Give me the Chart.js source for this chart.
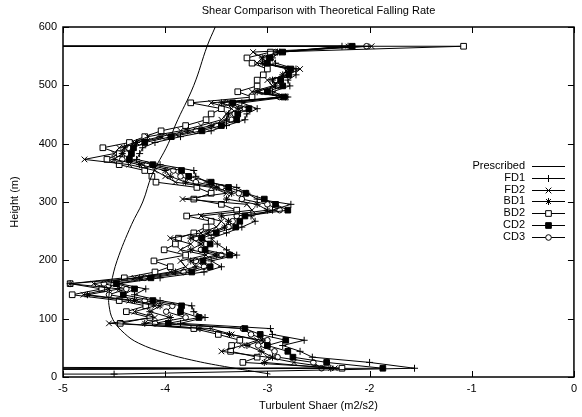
<!DOCTYPE html>
<html>
<head>
<meta charset="utf-8">
<script src="https://cdn.jsdelivr.net/npm/chart.js"></script>
<style>
  body { margin: 0; background: #fff; }
  canvas { display: block; }
</style>
</head>
<body>
<canvas id="shear-chart" width="582" height="417"></canvas>
<script>
// heights of the sampled levels (m)
const heights = [15, 25, 34, 44, 54, 63, 73, 83, 92, 102,
    112, 122, 131, 141, 151, 160, 170, 180, 189, 199,
    209, 218, 228, 238, 247, 257, 267, 276, 286, 296,
    305, 315, 325, 334, 344, 354, 364, 373, 383, 393,
    402, 412, 422, 431, 441, 451, 460, 470, 480, 489,
    499, 509, 518, 528, 538, 547, 557, 567];

// turbulent shear per scheme (m2/s2), same order as heights
const fd1 = [-1.56, -2.00, -2.56, -2.68, -2.85, -2.64, -2.95, -2.97, -3.85, -3.61,
    -3.72, -3.74, -4.05, -4.30, -4.19, -4.45, -4.05, -3.62, -3.45, -3.55,
    -3.30, -3.40, -3.49, -3.55, -3.40, -3.25, -3.12, -3.16, -2.95, -2.77,
    -3.10, -3.20, -3.30, -3.59, -3.70, -3.72, -4.05, -4.28, -4.25, -4.22,
    -4.10, -3.85, -3.55, -3.40, -3.22, -3.20, -3.10, -3.25, -2.80, -2.95,
    -2.78, -2.80, -2.72, -2.72, -2.92, -2.95, -2.88, -2.27];
const fd2 = [-2.34, -2.74, -3.00, -3.45, -3.25, -3.10, -3.35, -3.55, -4.55, -4.10,
    -4.30, -4.10, -4.35, -4.80, -4.55, -4.70, -4.30, -3.95, -3.80, -3.85,
    -3.60, -3.85, -3.75, -3.95, -3.65, -3.50, -3.45, -3.65, -3.15, -3.20,
    -3.83, -3.40, -3.55, -3.90, -4.00, -4.10, -4.35, -4.79, -4.50, -4.45,
    -4.30, -4.17, -3.85, -3.65, -3.45, -3.40, -3.35, -3.55, -2.85, -3.15,
    -2.95, -3.00, -2.80, -2.68, -3.10, -3.05, -3.14, -1.98];
const bd1 = [-2.38, -3.03, -2.95, -3.06, -3.20, -3.05, -3.37, -3.66, -4.20, -3.95,
    -4.15, -4.05, -4.30, -4.76, -4.45, -4.93, -4.25, -3.90, -3.70, -3.75,
    -3.50, -3.75, -3.65, -3.75, -3.58, -3.42, -3.38, -3.45, -3.00, -3.10,
    -3.40, -3.35, -3.50, -3.80, -3.95, -4.00, -4.25, -4.50, -4.42, -4.40,
    -4.28, -4.05, -3.78, -3.55, -3.40, -3.38, -3.28, -3.45, -2.82, -3.10,
    -2.92, -2.95, -2.85, -2.80, -3.05, -3.05, -2.90, -2.21];
const bd2 = [-2.27, -3.24, -3.10, -3.36, -3.35, -3.27, -3.48, -3.72, -4.44, -4.15,
    -4.38, -4.19, -4.45, -4.91, -4.62, -4.93, -4.40, -4.10, -3.95, -4.11,
    -3.80, -4.01, -3.90, -3.87, -3.72, -3.60, -3.55, -3.79, -3.30, -3.45,
    -3.72, -3.55, -3.69, -4.09, -4.13, -4.20, -4.45, -4.57, -4.45, -4.61,
    -4.35, -4.20, -4.04, -3.80, -3.60, -3.55, -3.45, -3.75, -3.15, -3.29,
    -3.10, -3.10, -3.04, -3.00, -3.15, -3.20, -2.97, -1.08];
const cd2 = [-1.87, -2.42, -2.75, -2.80, -3.00, -2.82, -3.07, -3.22, -3.97, -3.67,
    -3.85, -3.84, -4.12, -4.41, -4.30, -4.48, -4.14, -3.74, -3.56, -3.63,
    -3.37, -3.61, -3.56, -3.64, -3.50, -3.31, -3.27, -3.22, -2.80, -2.92,
    -3.03, -3.21, -3.38, -3.55, -3.77, -3.84, -4.12, -4.35, -4.33, -4.31,
    -4.20, -3.94, -3.64, -3.45, -3.30, -3.29, -3.18, -3.34, -2.84, -3.00,
    -2.85, -2.87, -2.79, -2.77, -3.00, -2.98, -2.85, -2.17];
const cd3 = [-2.47, -2.55, -2.90, -2.93, -3.09, -3.00, -3.16, -3.24, -4.10, -3.80,
    -3.99, -3.93, -4.20, -4.55, -4.38, -4.60, -4.20, -3.82, -3.62, -3.70,
    -3.45, -3.65, -3.60, -3.70, -3.55, -3.38, -3.34, -3.30, -2.88, -3.00,
    -3.25, -3.28, -3.45, -3.70, -3.85, -3.92, -4.18, -4.42, -4.38, -4.36,
    -4.25, -4.00, -3.70, -3.50, -3.35, -3.32, -3.22, -3.40, -2.88, -3.05,
    -2.90, -2.92, -2.82, -2.80, -3.02, -3.02, -2.92, -2.03];

// values that run off the left side (below -5) at the bottom and top levels
const offScaleShear = -12;
const lowLevel = [5, 10, 10, 20, 10, 10];   // FD1, FD2, BD1, BD2, CD2, CD3
const topLevel = 567;
const fd1Surface = [-4.5, 5];

// theoretical (prescribed) profile
const prescribedHeights = [5, 18, 29, 41, 58, 75, 98, 123, 140, 160, 200, 261, 300, 346, 400, 432, 500, 567, 600];
const prescribedShear = [-2.97, -3.42, -3.74, -4.00, -4.26, -4.40, -4.51, -4.55, -4.55, -4.53, -4.47, -4.33, -4.22, -4.13, -3.97, -3.90, -3.72, -3.59, -3.51];

const seriesNames = ["FD1", "FD2", "BD1", "BD2", "CD2", "CD3"];
const seriesValues = [fd1, fd2, bd1, bd2, cd2, cd3];
const xTicks = [-5, -4, -3, -2, -1, 0];
const yTicks = [0, 100, 200, 300, 400, 500, 600];

const FONT = "'Liberation Sans', Arial, sans-serif";

const markerStyles = [
    { pointStyle: 'cross', radius: 3.5, fill: '#000' },
    { pointStyle: 'crossRot', radius: 4, fill: '#000' },
    { pointStyle: 'star', radius: 3.5, fill: '#000' },
    { pointStyle: 'rect', radius: 4, fill: '#fff' },
    { pointStyle: 'rect', radius: 4, fill: '#000' },
    { pointStyle: 'circle', radius: 2.8, fill: '#fff' }
];

function buildSeries(idx) {
    let pts = [];
    pts.push({ x: offScaleShear, y: lowLevel[idx] });
    if (idx == 0) {
        pts.push({ x: fd1Surface[0], y: fd1Surface[1] });
    }
    seriesValues[idx].forEach((v, i) => {
        pts.push({ x: v, y: heights[i] });
    });
    pts.push({ x: offScaleShear, y: topLevel });
    return pts;
}

let datasets = [{
    label: "Prescribed",
    data: prescribedShear.map((v, i) => ({ x: v, y: prescribedHeights[i] })),
    showLine: true,
    borderColor: '#000',
    borderWidth: 1,
    pointRadius: 0,
    tension: 0.4
}];

seriesNames.forEach((name, i) => {
    let m = markerStyles[i];
    datasets.push({
        label: name,
        data: buildSeries(i),
        showLine: true,
        borderColor: '#000',
        borderWidth: 1,
        tension: 0,
        pointStyle: m.pointStyle,
        pointRadius: m.radius,
        pointBorderWidth: 1,
        pointBorderColor: '#000',
        pointBackgroundColor: m.fill
    });
});

// gnuplot style frame, inward ticks, titles and key
const framePlugin = {
    id: 'frame',
    afterDraw(chart) {
        const ctx = chart.ctx;
        const area = chart.chartArea;
        const xs = chart.scales.x;
        const ys = chart.scales.y;
        ctx.save();
        ctx.strokeStyle = '#000';
        ctx.lineWidth = 1.5;
        ctx.strokeRect(area.left, area.top, area.right - area.left, area.bottom - area.top);

        ctx.lineWidth = 1;
        ctx.beginPath();
        xTicks.forEach((t) => {
            let px = Math.round(xs.getPixelForValue(t)) + 0.5;
            ctx.moveTo(px, area.bottom);
            ctx.lineTo(px, area.bottom - 6);
            ctx.moveTo(px, area.top);
            ctx.lineTo(px, area.top + 6);
        });
        yTicks.forEach((t) => {
            let py = Math.round(ys.getPixelForValue(t)) + 0.5;
            ctx.moveTo(area.left, py);
            ctx.lineTo(area.left + 6, py);
            ctx.moveTo(area.right, py);
            ctx.lineTo(area.right - 6, py);
        });
        ctx.stroke();

        ctx.fillStyle = '#000';
        ctx.font = `11px ${FONT}`;
        ctx.textAlign = 'center';
        ctx.textBaseline = 'middle';
        let cx = (area.left + area.right) / 2;
        ctx.fillText("Shear Comparison with Theoretical Falling Rate", cx, 11);
        ctx.fillText("Turbulent Shaer (m2/s2)", cx, 406);
        ctx.save();
        ctx.translate(15, (area.top + area.bottom) / 2);
        ctx.rotate(-Math.PI / 2);
        ctx.fillText("Height (m)", 0, 0);
        ctx.restore();

        // key
        const textRight = 525;
        const lineL = 532;
        const lineR = 565;
        const rowTop = 166;
        const rowStep = 11.8;
        chart.data.datasets.forEach((ds, i) => {
            let y = rowTop + i * rowStep;
            ctx.fillStyle = '#000';
            ctx.textAlign = 'right';
            ctx.fillText(ds.label, textRight, y);
            ctx.beginPath();
            ctx.lineWidth = 1;
            ctx.moveTo(lineL, Math.round(y) + 0.5);
            ctx.lineTo(lineR, Math.round(y) + 0.5);
            ctx.stroke();
            if (i > 0) {
                let m = markerStyles[i - 1];
                ctx.fillStyle = m.fill;
                ctx.strokeStyle = '#000';
                ctx.lineWidth = 1;
                Chart.helpers.drawPoint(ctx, {
                    pointStyle: m.pointStyle,
                    radius: m.radius,
                    rotation: 0,
                    borderWidth: 1
                }, (lineL + lineR) / 2, Math.round(y) + 0.5);
            }
        });
        ctx.restore();
    }
};

new Chart(document.getElementById('shear-chart'), {
    type: 'scatter',
    data: { datasets: datasets },
    options: {
        responsive: false,
        animation: false,
        devicePixelRatio: 1,
        layout: { padding: { top: 27, right: 2, left: 0, bottom: 0 } },
        plugins: {
            legend: { display: false },
            tooltip: { enabled: false },
            title: { display: false }
        },
        scales: {
            x: {
                type: 'linear',
                min: -5,
                max: 0,
                afterBuildTicks: (s) => { s.ticks = xTicks.map((v) => ({ value: v })); },
                afterFit: (s) => { s.height = 40; },
                ticks: { color: '#000', padding: 5, font: { family: FONT, size: 11 } },
                grid: { display: false, drawTicks: false },
                border: { display: false }
            },
            y: {
                type: 'linear',
                min: 0,
                max: 600,
                afterBuildTicks: (s) => { s.ticks = yTicks.map((v) => ({ value: v })); },
                afterFit: (s) => { s.width = 63; },
                ticks: { color: '#000', padding: 6, font: { family: FONT, size: 11 } },
                grid: { display: false, drawTicks: false },
                border: { display: false }
            }
        }
    },
    plugins: [framePlugin]
});
</script>
</body>
</html>
